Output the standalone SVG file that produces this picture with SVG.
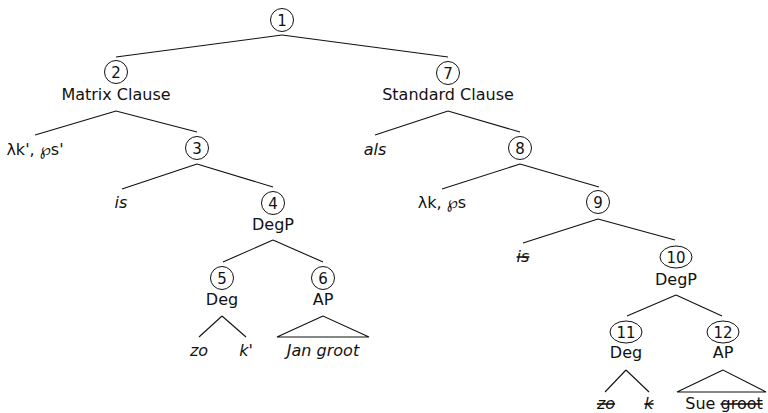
<svg xmlns="http://www.w3.org/2000/svg" width="768" height="413" viewBox="0 0 768 413">
  <style>
    text { font-family: "DejaVu Sans", "Liberation Sans", sans-serif; font-size: 16px; fill: #111; text-anchor: middle; }
    .num { font-size: 15px; }
    .it { font-style: italic; }
    .del { text-decoration: line-through; }
    .ring { fill: none; stroke: #111; stroke-width: 1; }
    #edges line, #edges polygon { stroke: #111; stroke-width: 1.1; fill: none; }
  </style>

  <!-- tree edges -->
  <g id="edges">
    <line x1="282" y1="35" x2="116" y2="57"/>
    <line x1="282" y1="35" x2="448" y2="57"/>
    <line x1="116" y1="111" x2="35" y2="135"/>
    <line x1="116" y1="111" x2="197" y2="132"/>
    <line x1="197" y1="164" x2="122" y2="189"/>
    <line x1="197" y1="164" x2="273" y2="187"/>
    <line x1="273" y1="240" x2="223" y2="262"/>
    <line x1="273" y1="240" x2="323" y2="262"/>
    <line x1="222" y1="316" x2="199" y2="337"/>
    <line x1="222" y1="316" x2="246" y2="337"/>
    <polygon points="323,316 277,337 369,337"/>
    <line x1="448" y1="111" x2="375" y2="135"/>
    <line x1="448" y1="111" x2="520" y2="132"/>
    <line x1="520" y1="164" x2="442" y2="189"/>
    <line x1="520" y1="164" x2="599" y2="187"/>
    <line x1="598" y1="219" x2="523" y2="243"/>
    <line x1="598" y1="219" x2="675" y2="240"/>
    <line x1="676" y1="295" x2="627" y2="316"/>
    <line x1="676" y1="295" x2="722" y2="316"/>
    <line x1="626" y1="370" x2="605" y2="392"/>
    <line x1="626" y1="370" x2="649" y2="392"/>
    <polygon points="723,370 677,392 766,392"/>
  </g>

  <g id="n1"><circle class="ring" cx="282" cy="20" r="11.5"/><text class="num" x="282" y="25.5">1</text></g>
  <g id="n2"><circle class="ring" cx="116" cy="72" r="11.5"/><text class="num" x="116" y="77.5">2</text><text x="116" y="100">Matrix Clause</text></g>
  <g id="n2-left"><text x="35" y="155">λk', ℘s'</text></g>
  <g id="n3"><circle class="ring" cx="197" cy="148" r="11.5"/><text class="num" x="197" y="153.5">3</text></g>
  <g id="n3-left"><text class="it" x="121" y="208">is</text></g>
  <g id="n4"><circle class="ring" cx="273" cy="203" r="11.5"/><text class="num" x="273" y="208.5">4</text><text x="273" y="230">DegP</text></g>
  <g id="n5"><circle class="ring" cx="222" cy="278" r="11.5"/><text class="num" x="222" y="283.5">5</text><text x="222" y="305">Deg</text></g>
  <g id="n5-leaves"><text class="it" x="199" y="356">zo</text><text class="it" x="246" y="356">k'</text></g>
  <g id="n6"><circle class="ring" cx="323" cy="278" r="11.5"/><text class="num" x="323" y="283.5">6</text><text x="323" y="305">AP</text><text class="it" x="323" y="356">Jan groot</text></g>

  <g id="n7"><circle class="ring" cx="448" cy="73" r="11.5"/><text class="num" x="448" y="78.5">7</text><text x="448" y="100">Standard Clause</text></g>
  <g id="n7-left"><text class="it" x="375" y="155">als</text></g>
  <g id="n8"><circle class="ring" cx="520" cy="148" r="11.5"/><text class="num" x="520" y="153.5">8</text></g>
  <g id="n8-left"><text x="442" y="208">λk, ℘s</text></g>
  <g id="n9"><circle class="ring" cx="598" cy="202" r="11.5"/><text class="num" x="598" y="207.5">9</text></g>
  <g id="n9-left"><text class="it del" x="523" y="262">is</text></g>
  <g id="n10"><ellipse class="ring" cx="676" cy="257" rx="16" ry="11"/><text class="num" x="676" y="262.5">10</text><text x="676" y="285">DegP</text></g>
  <g id="n11"><ellipse class="ring" cx="626" cy="332" rx="16" ry="11"/><text class="num" x="626" y="337.5">11</text><text x="626" y="358">Deg</text></g>
  <g id="n11-leaves"><text class="it del" x="606" y="409">zo</text><text class="it del" x="649" y="409">k</text></g>
  <g id="n12"><ellipse class="ring" cx="723" cy="332" rx="16" ry="11"/><text class="num" x="723" y="337.5">12</text><text x="723" y="358">AP</text><text x="724" y="409">Sue <tspan class="del">groot</tspan></text></g>
</svg>
